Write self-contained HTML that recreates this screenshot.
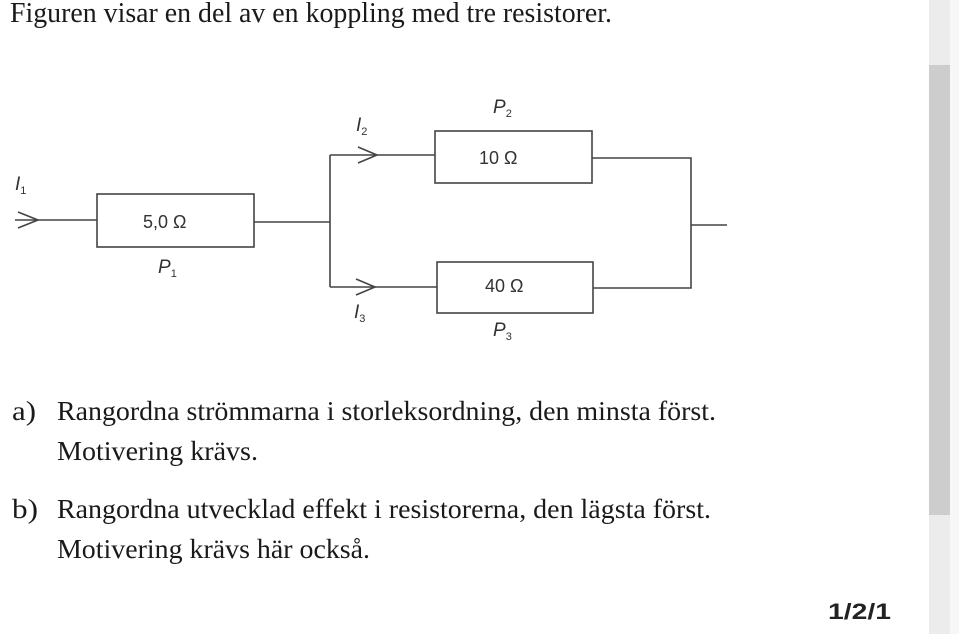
<!DOCTYPE html>
<html><head><meta charset="utf-8"><style>
html,body{margin:0;padding:0;background:#fff;width:959px;height:634px;overflow:hidden}
svg{display:block}
.s{font-family:"Liberation Serif",serif;font-size:27px;fill:#1a1a1a}
.h{font-family:"Liberation Serif",serif;font-size:28px;fill:#1a1a1a}
.c{font-family:"Liberation Sans",sans-serif;font-size:18px;fill:#333}
.ci{font-family:"Liberation Sans",sans-serif;font-size:19px;fill:#333;font-style:italic}
.sub{font-size:11px;font-style:normal}
</style></head><body>
<svg width="959" height="634" viewBox="0 0 959 634" xmlns="http://www.w3.org/2000/svg">
<rect x="929" y="0" width="21" height="634" fill="#ececec"/>
<rect x="929" y="65" width="21" height="450" fill="#cdcdcd"/>
<rect x="950" y="0" width="9" height="634" fill="#f7f7f7"/>

<text class="h" x="10" y="22" textLength="602" lengthAdjust="spacingAndGlyphs">Figuren visar en del av en koppling med tre resistorer.</text>

<g stroke="#444" stroke-width="1.6" fill="none">
<line x1="15" y1="220" x2="97" y2="220"/>
<polyline points="18,212 38,220 18,228"/>
<rect x="97" y="194" width="157" height="53"/>
<line x1="254" y1="222" x2="330" y2="222"/>
<line x1="330" y1="155" x2="330" y2="287"/>
<line x1="330" y1="155" x2="435" y2="155"/>
<polyline points="358,147 377,155 358,163"/>
<line x1="330" y1="287" x2="437" y2="287"/>
<polyline points="356,279 375,287 356,295"/>
<rect x="435" y="131" width="157" height="52"/>
<rect x="437" y="262" width="156" height="51"/>
<polyline points="592,158 691,158 691,288 593,288"/>
<line x1="691" y1="225" x2="727" y2="225"/>
</g>

<text class="c" x="143" y="228">5,0 Ω</text>
<text class="c" x="479" y="164">10 Ω</text>
<text class="c" x="485" y="292">40 Ω</text>
<text class="ci" x="158" y="273">P<tspan class="sub" dy="4">1</tspan></text>
<text class="ci" x="493" y="113">P<tspan class="sub" dy="4">2</tspan></text>
<text class="ci" x="493" y="336">P<tspan class="sub" dy="4">3</tspan></text>
<text class="ci" x="15" y="190">I<tspan class="sub" dy="4">1</tspan></text>
<text class="ci" x="356" y="131">I<tspan class="sub" dy="4">2</tspan></text>
<text class="ci" x="354" y="318">I<tspan class="sub" dy="4">3</tspan></text>

<text class="s" x="12" y="420" textLength="24" lengthAdjust="spacingAndGlyphs">a)</text>
<text class="s" x="57" y="420" textLength="659" lengthAdjust="spacingAndGlyphs">Rangordna strömmarna i storleksordning, den minsta först.</text>
<text class="s" x="57" y="460" textLength="201" lengthAdjust="spacingAndGlyphs">Motivering krävs.</text>
<text class="s" x="12" y="518" textLength="26" lengthAdjust="spacingAndGlyphs">b)</text>
<text class="s" x="57" y="518" textLength="654" lengthAdjust="spacingAndGlyphs">Rangordna utvecklad effekt i resistorerna, den lägsta först.</text>
<text class="s" x="57" y="558" textLength="313" lengthAdjust="spacingAndGlyphs">Motivering krävs här också.</text>

<text x="828" y="619" font-family="Liberation Sans, sans-serif" font-weight="bold" font-size="22" fill="#222" textLength="63" lengthAdjust="spacingAndGlyphs">1/2/1</text>
</svg>
</body></html>
